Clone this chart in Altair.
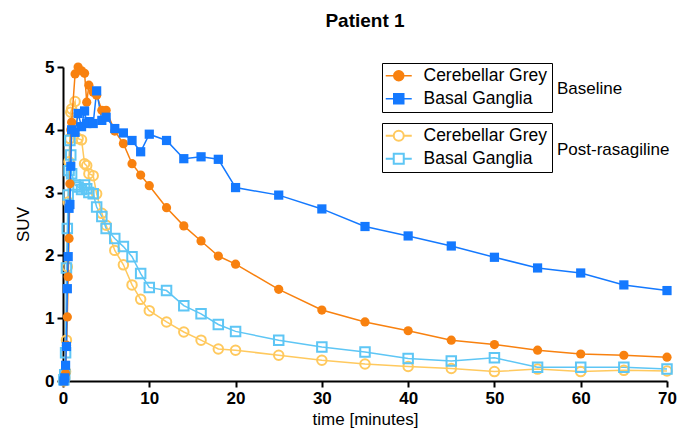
import altair as alt
import pandas as pd

# ---- data ----
times = [0.1, 0.2, 0.3, 0.4, 0.5, 0.6, 0.7, 0.8, 0.9, 1.0,
         1.4, 1.75, 2.15, 2.5, 2.75, 3.0, 3.5, 3.9, 4.5, 5.0,
         6, 7, 8, 9, 10, 12, 14, 16, 18, 20,
         25, 30, 35, 40, 45, 50, 55, 60, 65, 70]

base_cg = [0.0, 0.02, 0.12, 0.57, 1.02, 1.66, 2.27, 3.14, 4.0, 4.12,
           4.89, 5.0, 4.94, 4.9, 4.44, 4.71, 4.6, 4.55, 4.31, 4.31,
           3.98, 3.78, 3.46, 3.28, 3.11, 2.76, 2.47, 2.23, 1.99, 1.86,
           1.46, 1.13, 0.94, 0.80, 0.65, 0.58, 0.49, 0.43, 0.41, 0.38]

base_bg = [0.0, 0.05, 0.25, 0.55, 1.47, 1.98, 2.75, 2.81, 3.42, 4.0,
           3.96, 4.26, 4.05, 4.3, 4.1, 4.13, 4.1, 4.62, 4.15, 4.2,
           4.02, 3.95, 3.83, 3.65, 3.93, 3.83, 3.54, 3.57, 3.53, 3.08,
           2.96, 2.74, 2.46, 2.31, 2.15, 1.97, 1.80, 1.72, 1.53, 1.44]

post_cg = [0.0, 0.05, 0.15, 0.65, 1.82, 2.85, 3.49, 3.86, 4.28, 4.33,
           4.45, 3.86, 3.84, 3.46, 3.43, 3.3, 3.27, 2.98, 2.67, 2.48,
           2.08, 1.85, 1.53, 1.30, 1.12, 0.94, 0.78, 0.65, 0.51, 0.49,
           0.41, 0.33, 0.27, 0.23, 0.20, 0.15, 0.19, 0.15, 0.17, 0.16]

post_bg = [0.02, 0.1, 0.45, 1.8, 2.43, 2.96, 3.35, 3.83, 3.6, 3.3,
           3.12, 3.09, 3.05, 3.12, 3.06, 3.0, 2.98, 2.77, 2.62, 2.43,
           2.27, 2.14, 1.98, 1.71, 1.49, 1.44, 1.20, 1.07, 0.90, 0.79,
           0.65, 0.54, 0.46, 0.36, 0.32, 0.37, 0.22, 0.22, 0.22, 0.19]

regions = ["Cerebellar Grey", "Basal Ganglia"]
base_colors = ["#F8810F", "#1479FF"]
post_colors = ["#FFC95E", "#5EC6F5"]
x_ticks = [0, 10, 20, 30, 40, 50, 60, 70]
y_ticks = [0, 1, 2, 3, 4, 5]
group_titles = ["Baseline", "Post-rasagiline"]

FONT = "Liberation Sans"


def long_df(cg, bg):
    rows = []
    for t, a in zip(times, cg):
        rows.append({"time": t, "suv": a, "region": regions[0]})
    for t, b in zip(times, bg):
        rows.append({"time": t, "suv": b, "region": regions[1]})
    return pd.DataFrame(rows)


base_df = long_df(base_cg, base_bg)
post_df = long_df(post_cg, post_bg)

x_enc = alt.X("time:Q",
              scale=alt.Scale(domain=[0, 70], nice=False),
              axis=alt.Axis(values=x_ticks, title="time [minutes]", titlePadding=5,
                            labelFlush=False))
y_enc = alt.Y("suv:Q",
              scale=alt.Scale(domain=[0, 5], nice=False),
              axis=alt.Axis(values=y_ticks, format="d", title="SUV", titlePadding=12,
                            labelFlush=False))

# legend symbols: short line with marker in the middle
CIRC = "M-2.6,0H-1M1,0H2.6M1,0A1,1,0,1,1,-1,0A1,1,0,1,1,1,0Z"
SQ = "M-2.6,0H-1M1,0H2.6M-1,-1H1V1H-1Z"


def group(df, colors, filled, ly):
    leg = alt.Legend(
        orient="none", legendX=319, legendY=ly, title=None,
        strokeColor="black", padding=4, symbolOffset=4,
        labelFont=FONT, labelFontSize=17.5,
        labelColor="black", labelOffset=16, rowPadding=4,
        symbolSize=100, symbolOpacity=1,
        symbolStrokeWidth=1.5 if filled else 2,
    )
    cscale = alt.Scale(domain=regions, range=colors)
    color = alt.Color("region:N", scale=cscale, legend=leg)
    line = alt.Chart(df).mark_line(strokeWidth=1.5).encode(
        x=x_enc, y=y_enc, color=color, detail="region:N")
    layers = [line]
    for reg, shp in zip(regions, ["circle", "square"]):
        sub = alt.Chart(df).transform_filter(alt.datum.region == reg)
        if filled:
            m = sub.mark_point(shape=shp, filled=True, size=85, opacity=1)
        else:
            m = sub.mark_point(shape=shp, filled=False, size=90, strokeWidth=2, opacity=1)
        layers.append(m.encode(x=x_enc, y=y_enc, color=color))
    # legend-carrying layer (draws no data, only defines legend symbols)
    shape = alt.Shape("region:N", scale=alt.Scale(domain=regions, range=[CIRC, SQ]), legend=leg)
    stroke = alt.Stroke("region:N", scale=cscale, legend=leg)
    legsrc = alt.Chart(df).transform_filter("datum.suv < -100")
    legl = legsrc.mark_point(filled=filled, size=100, strokeWidth=1.5 if filled else 2,
                             opacity=1).encode(
        x=x_enc, y=y_enc, color=color, shape=shape, stroke=stroke)
    layers.append(legl)
    return alt.layer(*layers)


post_group = group(post_df, post_colors, False, 56)
base_group = group(base_df, base_colors, True, -4)

t1 = alt.Chart(pd.DataFrame({"label": [group_titles[0]]})).mark_text(
    align="left", baseline="middle", font=FONT, fontSize=17, color="black"
).encode(text="label:N", x=alt.value(494), y=alt.value(22))
t2 = alt.Chart(pd.DataFrame({"label": [group_titles[1]]})).mark_text(
    align="left", baseline="middle", font=FONT, fontSize=17, color="black"
).encode(text="label:N", x=alt.value(494), y=alt.value(83))

chart = alt.layer(post_group, base_group, t1, t2).resolve_scale(
    color="independent", shape="independent", stroke="independent"
).properties(
    width=604, height=314,
    title=alt.TitleParams("Patient 1", font=FONT, fontSize=19, fontWeight="bold",
                          color="black", offset=27, anchor="middle"),
    autosize=alt.AutoSizeParams(type="none"),
    padding={"left": 55, "top": 59, "right": 13, "bottom": 47},
).configure_view(stroke=None).configure_axis(
    grid=False, domainColor="black", domainWidth=2, tickColor="black", tickWidth=2,
    tickSize=6, labelFont=FONT, labelFontSize=17, labelFontWeight="bold",
    labelColor="black", labelPadding=3, titleFont=FONT, titleFontSize=17,
    titleFontWeight="normal", titleColor="black",
)

chart.save("out.html", embed_options={"renderer": "svg", "actions": False})
